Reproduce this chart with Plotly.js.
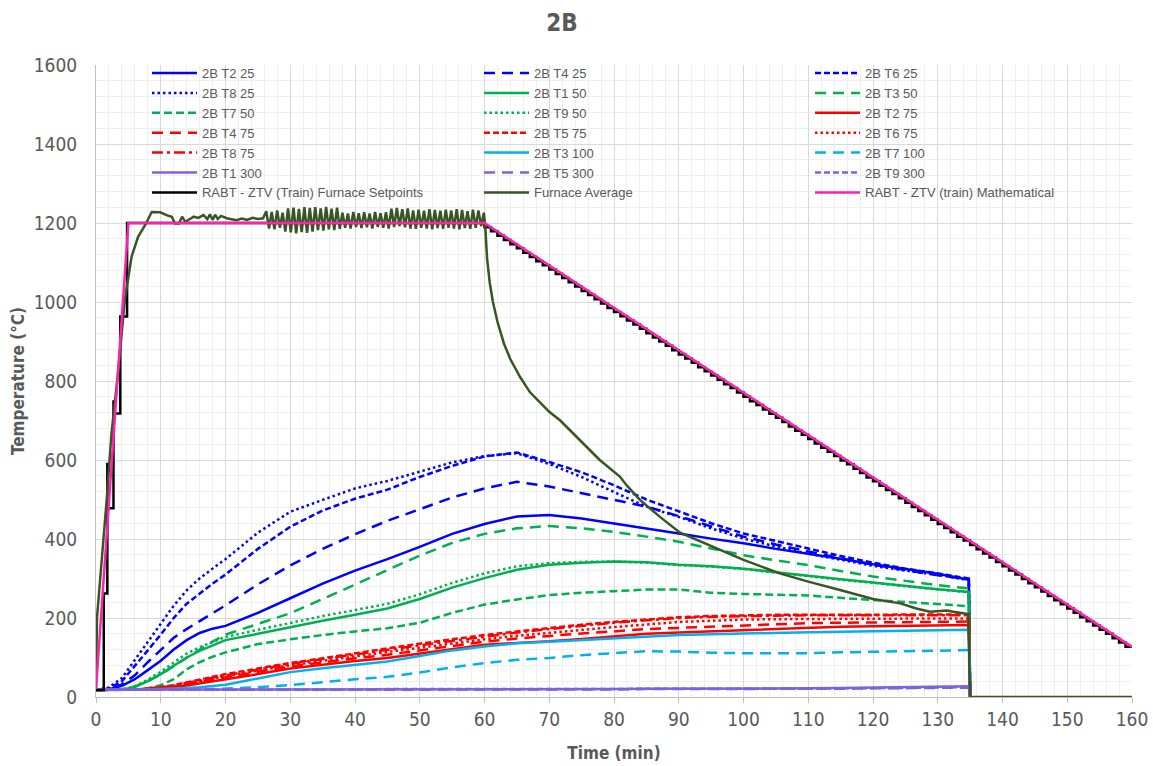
<!DOCTYPE html>
<html>
<head>
<meta charset="utf-8">
<script src="https://cdn.plot.ly/plotly-3.0.1.min.js"></script>
<style>html,body{margin:0;padding:0;background:#fff;}#chart{width:1153px;height:766px;}</style>
</head>
<body>
<div id="chart"></div>
<script>
// ---------- Data ----------
const tcTime = [0,2,4,6,8,10,12,14,16,18,20,25,30,35,40,45,50,55,60,65,70,75,80,85,90,95,100,105,110,115,120,125,130,134.8,135];

const t2_25 = [18,20,28,45,68,92,120,144,162,173,180,213,250,287,320,349,380,413,438,457,461,452,439,427,414,401,389,375,363,350,336,324,312,297,0];
const t4_25 = [18,20,32,55,88,120,150,172,192,212,232,285,333,375,412,446,475,505,528,545,533,516,499,482,458,433,406,386,368,351,335,321,308,298,0];
const t6_25 = [18,21,40,78,118,158,200,236,262,287,310,375,431,472,502,525,557,585,609,619,595,569,536,500,470,440,414,395,376,357,340,325,313,300,0];
const t8_25 = [18,24,48,93,138,183,231,270,300,325,349,416,469,499,528,547,570,594,610,617,590,557,519,482,456,427,401,381,363,347,332,320,309,296,0];
const t1_50 = [18,18,19,25,40,58,80,100,117,131,144,160,177,193,208,224,248,277,301,322,335,340,343,341,335,331,325,316,306,298,290,281,273,266,0];
const t3_50 = [18,18,20,27,40,57,78,100,120,140,158,185,212,248,285,322,358,390,413,427,433,427,418,406,393,376,359,346,334,319,305,294,283,275,0];
const t7_50 = [18,18,18,19,22,30,45,70,88,102,113,134,146,157,166,174,188,213,234,247,258,264,268,272,272,264,261,259,257,251,246,240,236,230,0];
const t9_50 = [18,18,19,27,44,64,87,110,126,140,152,170,188,205,220,236,260,289,313,331,339,342,343,340,334,330,324,315,305,297,289,280,272,265,0];
const t2_75 = [18,18,18,19,20,22,25,29,34,39,44,58,72,82,91,99,110,122,132,137,141,147,153,160,163,166,170,173,176,178,179,180,181,182,0];
const t4_75 = [18,18,18,19,20,23,27,32,38,44,50,64,77,88,98,107,118,130,140,148,155,161,166,172,175,178,181,184,187,188,189,190,190,191,0];
const t5_75 = [18,18,18,19,21,25,30,37,44,51,58,72,86,98,111,123,135,146,157,166,175,183,190,196,202,205,207,208,208,208,208,208,209,209,0];
const t6_75 = [18,18,18,19,21,24,28,34,40,46,52,67,80,92,103,114,125,136,146,155,163,170,177,184,190,193,196,197,198,198,198,199,199,199,0];
const t8_75 = [18,18,18,19,21,24,29,35,42,49,55,70,84,96,108,120,131,142,153,163,172,180,188,194,200,203,205,206,207,207,207,207,207,207,0];
const t3_100 = [18,18,18,18,19,20,21,23,25,28,31,47,63,73,82,90,104,118,128,136,140,144,148,153,157,159,161,162,164,165,167,168,169,170,0];
const t7_100 = [18,18,18,18,18,18,18,19,19,20,21,25,30,38,45,51,62,75,86,94,99,106,111,116,115,112,111,111,111,113,115,116,117,119,0];
const t1_300 = [18,19,19,19,19,19,19,19,19,19,19,19,19,19,20,20,20,20,20,20,20,20,20,21,21,21,21,22,22,23,24,25,26,27,0];
const t5_300 = [18,18,18,18,18,18,18,18,18,18,18,18,18,18,19,19,19,19,19,19,19,19,19,20,20,20,20,20,21,21,22,22,23,24,0];
const t9_300 = [18,18,19,19,19,19,19,19,19,19,19,19,19,19,19,20,20,20,20,20,20,20,20,20,21,21,21,21,21,22,22,23,24,25,0];

// Furnace setpoints (stepped)
const setTime = [0,1.2,1.75,1.8,1.85,2.7,2.75,2.8,3.75,4.8,4.95,
  60,61,62,63,64,65,66,67,68,69,70,71,72,73,74,75,76,77,78,79,80,81,82,83,84,85,86,87,88,89,90,
  91,92,93,94,95,96,97,98,99,100,101,102,103,104,105,106,107,108,109,110,111,112,113,114,115,116,117,118,119,120,
  121,122,123,124,125,126,127,128,129,130,131,132,133,134,135,136,137,138,139,140,141,142,143,144,145,146,147,148,149,150,
  151,152,153,154,155,156,157,158,159,160];
const setTemp = [18,18,262,590,478,478,748,718,718,963,1200,
  1200,1189,1179,1168,1157,1146,1136,1125,1114,1103,1093,1082,1071,1061,1050,1039,1028,1018,1007,996,985,975,964,953,943,932,921,910,900,889,878,
  867,857,846,835,825,814,803,792,782,771,760,749,739,728,717,707,696,685,674,664,653,642,631,621,610,599,589,578,567,556,
  546,535,524,514,503,492,481,471,460,449,438,428,417,406,396,385,374,363,353,342,331,320,310,299,288,278,267,256,245,235,
  224,213,202,192,181,170,160,149,138,127];

// Furnace average
const furnTime = [0,0.15,0.4,0.9,1.65,2.4,3.4,4.45,5.5,6.5,7.6,8.6,9.9,10.9,11.7,12.2,12.8,13.3,13.8,14.5,15.1,15.8,16.6,17.2,17.6,18.0,18.4,18.8,19.3,20.2,21.0,21.7,22.5,23.3,24.2,25.0,25.8,
  26.3,26.72,27.14,27.56,27.98,28.4,28.82,29.24,29.66,30.08,30.5,30.92,31.34,31.76,32.18,32.6,33.02,33.44,33.86,34.28,34.7,35.12,35.54,35.96,36.38,36.8,37.22,37.64,38.06,38.48,38.9,39.32,39.74,40.16,40.58,41.0,41.42,41.84,42.26,42.68,43.1,43.52,43.94,44.36,44.78,45.2,45.62,46.04,46.46,46.88,47.3,47.72,48.14,48.56,48.98,49.4,49.82,50.24,50.66,51.08,51.5,51.92,52.34,52.76,53.18,53.6,54.02,54.44,54.86,55.28,55.7,56.12,56.54,56.96,57.38,57.8,58.22,58.64,59.06,59.48,59.9,
  60.1,60.4,60.8,61.3,62.0,63.0,64.0,65.5,67.0,68.6,70.0,71.7,74.7,77.8,80.9,82.0,84.0,87.1,90.2,95.3,100.0,105.6,110.0,114.9,120.0,124.2,126.7,128.8,131.4,132.4,134.7,135,160];
const furnTemp = [20,200,250,347,499,668,820,1005,1115,1165,1195,1228,1227,1220,1216,1199,1199,1216,1203,1210,1216,1213,1220,1210,1222,1208,1221,1210,1218,1212,1209,1207,1211,1208,1213,1210,1212,
  1230,1186,1228,1184,1232,1188,1226,1178,1237,1176,1239,1174,1236,1177,1240,1175,1238,1178,1240,1182,1237,1181,1241,1184,1236,1182,1239,1185,1226,1188,1224,1186,1228,1190,1225,1187,1227,1189,1224,1186,1228,1190,1225,1188,1227,1186,1236,1190,1238,1192,1235,1189,1237,1186,1232,1185,1234,1188,1231,1186,1235,1184,1233,1187,1231,1185,1234,1188,1232,1186,1235,1184,1233,1187,1230,1185,1234,1188,1232,1192,1226,
  1195,1110,1050,1000,950,895,855,810,772,745,722,700,651,600,558,535,499,456,416,381,347,313,292,271,248,237,224,216,219,216,210,0,0];

// Mathematical curve
const mathTime = [0,5,60,160];
const mathTemp = [20,1200,1200,127];

// ---------- Styles ----------
const BLUE='#0000FF', GREEN='#00B050', RED='#FF0000', LBLUE='#00B0F0', PURPLE='#7F60E4';
const DOT='2.5px,3px', SDASH='6px,3px', MDASH='8px,4px', LDASH='11px,7px', DDOT='11px,4px,3px,4px';

function tc(name, y, color, dash, lg){
  return {x: tcTime, y: y, name: name, type:'scatter', mode:'lines', legend: lg,
          line:{color: color, width: 2.5, dash: dash}, hoverinfo:'skip'};
}
const traces = [
  tc('2B T2 25', t2_25, BLUE, 'solid', 'legend'),
  tc('2B T4 25', t4_25, BLUE, LDASH, 'legend2'),
  tc('2B T6 25', t6_25, BLUE, SDASH, 'legend3'),
  tc('2B T8 25', t8_25, BLUE, DOT, 'legend'),
  tc('2B T1 50', t1_50, GREEN, 'solid', 'legend2'),
  tc('2B T3 50', t3_50, GREEN, LDASH, 'legend3'),
  tc('2B T7 50', t7_50, GREEN, MDASH, 'legend'),
  tc('2B T9 50', t9_50, GREEN, DOT, 'legend2'),
  tc('2B T2 75', t2_75, RED, 'solid', 'legend3'),
  tc('2B T4 75', t4_75, RED, LDASH, 'legend'),
  tc('2B T5 75', t5_75, RED, SDASH, 'legend2'),
  tc('2B T6 75', t6_75, RED, DOT, 'legend3'),
  tc('2B T8 75', t8_75, RED, DDOT, 'legend'),
  tc('2B T3 100', t3_100, LBLUE, 'solid', 'legend2'),
  tc('2B T7 100', t7_100, LBLUE, LDASH, 'legend3'),
  tc('2B T1 300', t1_300, PURPLE, 'solid', 'legend'),
  tc('2B T5 300', t5_300, PURPLE, LDASH, 'legend2'),
  tc('2B T9 300', t9_300, PURPLE, SDASH, 'legend3'),
  {x: setTime, y: setTemp, name:'RABT - ZTV (Train) Furnace Setpoints', type:'scatter', mode:'lines', legend:'legend',
   line:{color:'#000000', width:2.5, shape:'vh'}, hoverinfo:'skip'},
  {x: furnTime, y: furnTemp, name:'Furnace Average', type:'scatter', mode:'lines', legend:'legend2',
   line:{color:'#375623', width:2.5}, hoverinfo:'skip'},
  {x: mathTime, y: mathTemp, name:'RABT - ZTV (train) Mathematical', type:'scatter', mode:'lines', legend:'legend3',
   line:{color:'#FF22B0', width:2.5}, hoverinfo:'skip'}
];

const FONT = 'Liberation Sans Narrow, DejaVu Sans Condensed, Liberation Sans, Arial, sans-serif';
function lg(x){
  return {orientation:'v', x:x, xanchor:'left', y:1.011, yanchor:'top', bgcolor:'rgba(0,0,0,0)', borderwidth:0,
          font:{size:13, color:'#595959', family:'Liberation Sans, Arial, sans-serif'},
          itemwidth:45, traceorder:'normal', tracegroupgap:0};
}
const layout = {
  width:1153, height:766,
  margin:{l:96, r:21, t:65, b:69},
  paper_bgcolor:'#ffffff', plot_bgcolor:'#ffffff',
  font:{family: FONT, color:'#595959'},
  title:{text:'<b>2B</b>', x:0.4875, xref:'container', xanchor:'center', y:0.971, yref:'container', yanchor:'middle',
         font:{size:24, color:'#595959', family: FONT}},
  showlegend:true,
  legend: lg(0.0492),
  legend2: lg(0.3697),
  legend3: lg(0.6892),
  xaxis:{range:[0,160], tick0:0, dtick:10, showgrid:true, gridcolor:'#d9d9d9', gridwidth:1,
         minor:{dtick:2, showgrid:true, gridcolor:'#efefef', gridwidth:1},
         showline:true, linecolor:'#bfbfbf', linewidth:1, zeroline:false,
         ticks:'outside', ticklen:5, tickcolor:'#bfbfbf',
         tickfont:{size:19, color:'#595959', family: FONT},
         title:{text:'<b>Time (min)</b>', font:{size:17, color:'#595959', family: FONT}, standoff:18}},
  yaxis:{range:[0,1600], tick0:0, dtick:200, showgrid:true, gridcolor:'#d9d9d9', gridwidth:1,
         minor:{dtick:40, showgrid:true, gridcolor:'#efefef', gridwidth:1},
         showline:true, linecolor:'#bfbfbf', linewidth:1, zeroline:false,
         ticks:'', ticklabelstandoff:14,
         tickfont:{size:19, color:'#595959', family: FONT},
         title:{text:'<b>Temperature (°C)</b>', font:{size:17, color:'#595959', family: FONT}, standoff:4}}
};

Plotly.newPlot('chart', traces, layout, {staticPlot:true, displayModeBar:false});
</script>
</body>
</html>
